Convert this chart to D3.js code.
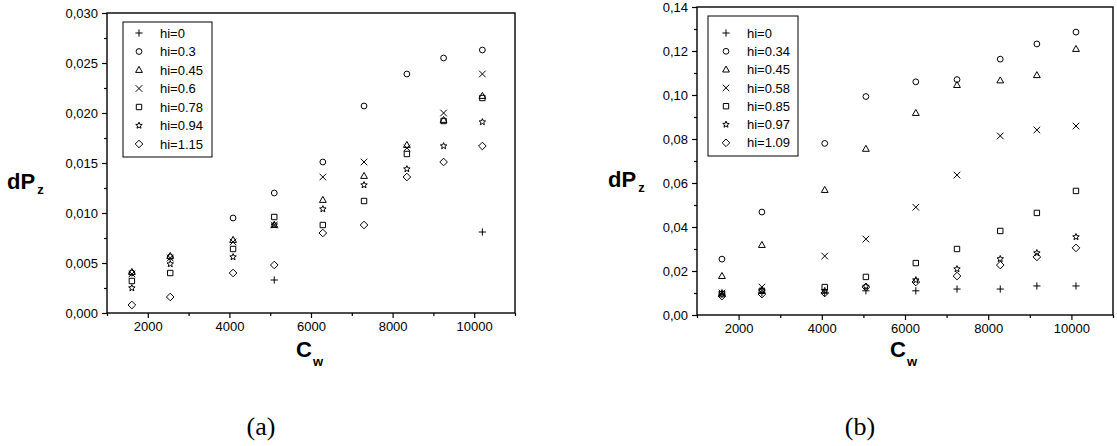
<!DOCTYPE html>
<html><head><meta charset="utf-8">
<script src="https://cdn.jsdelivr.net/npm/d3@7"></script>
<style>body{margin:0;background:#fff}svg{display:block}text{font-family:"Liberation Sans",Arial,sans-serif}</style>
</head><body>
<script>
// ---------- data ----------
const xTicks = [2000, 4000, 6000, 8000, 10000];
const xMinor = [1000, 3000, 5000, 7000, 9000, 11000];

// panel (a)
const cwA = [1610, 2550, 4090, 5100, 6290, 7300, 8350, 9250, 10200];
const labelsA = ["hi=0", "hi=0.3", "hi=0.45", "hi=0.6", "hi=0.78", "hi=0.94", "hi=1.15"];
const a_hi0   = [null, null, null, 0.0033, null, null, null, null, 0.0081];
const a_hi030 = [0.0040, 0.0056, 0.0095, 0.0120, 0.0151, 0.0207, 0.0239, 0.0255, 0.0263];
const a_hi045 = [0.0041, 0.0057, 0.0073, 0.0088, 0.0113, 0.0137, 0.0168, 0.0193, 0.0217];
const a_hi060 = [0.0039, 0.0055, 0.0071, 0.0088, 0.0136, 0.0151, 0.0165, 0.0200, 0.0239];
const a_hi078 = [0.0032, 0.0040, 0.0064, 0.0096, 0.0088, 0.0112, 0.0159, 0.0192, 0.0215];
const a_hi094 = [0.0025, 0.0049, 0.0056, 0.0088, 0.0104, 0.0128, 0.0144, 0.0167, 0.0191];
const a_hi115 = [0.0008, 0.0016, 0.0040, 0.0048, 0.0080, 0.0088, 0.0136, 0.0151, 0.0167];
const yTicksA = [0, 0.005, 0.010, 0.015, 0.020, 0.025, 0.030];

// panel (b)
const cwB = [1600, 2560, 4070, 5060, 6260, 7250, 8290, 9170, 10110];
const labelsB = ["hi=0", "hi=0.34", "hi=0.45", "hi=0.58", "hi=0.85", "hi=0.97", "hi=1.09"];
const b_hi0   = [0.0095, 0.0100, 0.0100, 0.0110, 0.0110, 0.0118, 0.0118, 0.0132, 0.0132];
const b_hi034 = [0.0254, 0.0468, 0.0780, 0.0993, 0.1060, 0.1070, 0.1163, 0.1232, 0.1286];
const b_hi045 = [0.0177, 0.0318, 0.0568, 0.0755, 0.0918, 0.1045, 0.1066, 0.1090, 0.1209];
const b_hi058 = [0.0100, 0.0127, 0.0268, 0.0345, 0.0490, 0.0636, 0.0814, 0.0841, 0.0859];
const b_hi085 = [0.0095, 0.0110, 0.0127, 0.0173, 0.0236, 0.0300, 0.0382, 0.0464, 0.0564];
const b_hi097 = [0.0100, 0.0110, 0.0110, 0.0130, 0.0159, 0.0209, 0.0255, 0.0282, 0.0355];
const b_hi109 = [0.0086, 0.0095, 0.0100, 0.0127, 0.0150, 0.0177, 0.0227, 0.0264, 0.0305];
const yTicksB = [0, 0.02, 0.04, 0.06, 0.08, 0.10, 0.12, 0.14];

const shapes = ["plus", "circle", "triangle", "cross", "square", "star", "diamond"];

// ---------- drawing ----------
const W = 1117, H = 446;
const svg = d3.select("body").append("svg").attr("width", W).attr("height", H);

function shapePath(name) {
  const p = d3.path();
  if (name === "plus") { const r = 3.6; p.moveTo(-r,0); p.lineTo(r,0); p.moveTo(0,-r); p.lineTo(0,r); }
  else if (name === "cross") { const r = 3.3; p.moveTo(-r,-r); p.lineTo(r,r); p.moveTo(-r,r); p.lineTo(r,-r); }
  else if (name === "circle") { p.arc(0,0,2.9,0,2*Math.PI); p.closePath(); }
  else if (name === "square") { p.rect(-2.7,-2.7,5.4,5.4); }
  else if (name === "triangle") { p.moveTo(0,-3.6); p.lineTo(3.4,2.4); p.lineTo(-3.4,2.4); p.closePath(); }
  else if (name === "diamond") { const r = 3.8; p.moveTo(0,-r); p.lineTo(r,0); p.lineTo(0,r); p.lineTo(-r,0); p.closePath(); }
  else if (name === "star") {
    const R = 3.4, r = 1.5;
    for (let i = 0; i < 10; i++) {
      const a = -Math.PI/2 + i*Math.PI/5, rr = i % 2 ? r : R;
      const x = rr*Math.cos(a), y = rr*Math.sin(a);
      if (i === 0) p.moveTo(x,y); else p.lineTo(x,y);
    }
    p.closePath();
  }
  return p.toString();
}

function panel(cfg) {
  const g = svg.append("g");
  const x = d3.scaleLinear().domain([1000, 11000]).range([cfg.x0, cfg.x1]);
  const y = d3.scaleLinear().domain([0, cfg.ymax]).range([cfg.y0, cfg.y1]);
  const fmt = v => d3.format(cfg.fmt)(v).replace(".", ",");

  // x axis major
  const ax = g.append("g").attr("transform", `translate(0,${cfg.y0})`)
    .call(d3.axisBottom(x).tickValues(xTicks).tickSize(5).tickPadding(4).tickFormat(d3.format("d")));
  const axm = g.append("g").attr("transform", `translate(0,${cfg.y0})`)
    .call(d3.axisBottom(x).tickValues(xMinor).tickSize(3).tickFormat(""));
  // y axis
  const ay = g.append("g").attr("transform", `translate(${cfg.x0},0)`)
    .call(d3.axisLeft(y).tickValues(cfg.yTicks).tickSize(5).tickPadding(4).tickFormat(fmt));
  const minorY = cfg.yTicks.slice(0, -1).map((v, i) => (v + cfg.yTicks[i+1]) / 2);
  const aym = g.append("g").attr("transform", `translate(${cfg.x0},0)`)
    .call(d3.axisLeft(y).tickValues(minorY).tickSize(3).tickFormat(""));
  [ax, axm, ay, aym].forEach(a => {
    a.select(".domain").remove();
    a.selectAll("line").attr("stroke", "#000").attr("stroke-width", 1.2);
    a.selectAll("text").attr("fill", "#000").style("font-size", "13px")
      .style("font-family", '"Liberation Sans", Arial, sans-serif');
  });

  // frame
  g.append("rect").attr("x", cfg.x0).attr("y", cfg.y1)
    .attr("width", cfg.x1 - cfg.x0).attr("height", cfg.y0 - cfg.y1)
    .attr("fill", "none").attr("stroke", "#000").attr("stroke-width", 1.4);

  // points
  cfg.series.forEach((vals, si) => {
    const pts = vals.map((v, i) => ({ cw: cfg.cw[i], v })).filter(d => d.v != null);
    g.append("g").selectAll("path").data(pts).join("path")
      .attr("d", shapePath(shapes[si]))
      .attr("transform", d => `translate(${x(d.cw)},${y(d.v)})`)
      .attr("fill", "none").attr("stroke", "#000").attr("stroke-width", 1);
  });

  // legend
  const lg = g.append("g");
  lg.append("rect").attr("x", cfg.leg.x).attr("y", cfg.leg.y).attr("width", cfg.leg.w).attr("height", cfg.leg.h)
    .attr("fill", "#fff").attr("stroke", "#000").attr("stroke-width", 1);
  cfg.labels.forEach((lab, i) => {
    const yy = cfg.leg.row0 + i * cfg.leg.dy;
    lg.append("path").attr("d", shapePath(shapes[i]))
      .attr("transform", `translate(${cfg.leg.sx},${yy})`)
      .attr("fill", "none").attr("stroke", "#000").attr("stroke-width", 1);
    lg.append("text").attr("x", cfg.leg.tx).attr("y", yy + 4.6).text(lab).style("font-size", "13px");
  });

  // axis titles
  const yt = g.append("text").attr("x", cfg.yt.x).attr("y", cfg.yt.y).style("font-weight", "bold");
  yt.append("tspan").text("dP").style("font-size", "22px");
  yt.append("tspan").text("z").style("font-size", "13px").attr("dx", 2).attr("dy", 5);
  const xt = g.append("text").attr("x", cfg.xt.x).attr("y", cfg.xt.y).style("font-weight", "bold");
  xt.append("tspan").text("C").style("font-size", "22px");
  xt.append("tspan").text("w").style("font-size", "13px").attr("dx", 1).attr("dy", 9);

  // caption
  g.append("text").attr("x", cfg.cap.x).attr("y", cfg.cap.y).attr("text-anchor", "middle")
    .style("font-family", '"Liberation Serif", "DejaVu Serif", serif').style("font-size", "26px")
    .text(cfg.cap.t);
}

panel({
  x0: 107, x1: 515, y0: 313, y1: 13, ymax: 0.030, yTicks: yTicksA, fmt: ".3f",
  cw: cwA, series: [a_hi0, a_hi030, a_hi045, a_hi060, a_hi078, a_hi094, a_hi115], labels: labelsA,
  leg: { x: 123, y: 22, w: 89, h: 135, row0: 33, dy: 18.5, sx: 139, tx: 160 },
  yt: { x: 7, y: 189 }, xt: { x: 296, y: 357 }, cap: { x: 261, y: 435, t: "(a)" }
});
panel({
  x0: 697, x1: 1113, y0: 315, y1: 7, ymax: 0.14, yTicks: yTicksB, fmt: ".2f",
  cw: cwB, series: [b_hi0, b_hi034, b_hi045, b_hi058, b_hi085, b_hi097, b_hi109], labels: labelsB,
  leg: { x: 708, y: 16, w: 90, h: 140, row0: 33, dy: 18.3, sx: 726, tx: 747 },
  yt: { x: 608, y: 187 }, xt: { x: 890, y: 357 }, cap: { x: 860, y: 435, t: "(b)" }
});
</script>
</body></html>
